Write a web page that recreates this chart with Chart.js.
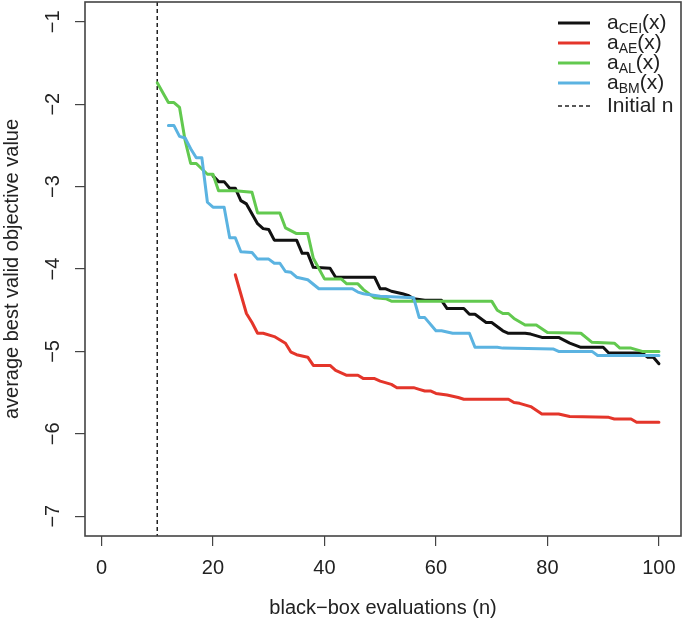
<!DOCTYPE html>
<html>
<head>
<meta charset="utf-8">
<script src="https://cdn.jsdelivr.net/npm/chart.js@4.4.1/dist/chart.umd.min.js"></script>
<style>
  body { margin: 0; background: #fff; }
  canvas { display: block; }
</style>
</head>
<body>
<canvas id="chart" width="685" height="622"></canvas>
<script>
// tick positions
var xTicks = [0, 20, 40, 60, 80, 100];
var yTicks = [-7, -6, -5, -4, -3, -2, -1];
var initialN = 10;

// a_CEI(x)
var ceiN = [20,21,22,23,24,25,26,28,29,30,31,35,36,37,38,41,42,49,50,51,52,54,55,56,58,61,62,65,66,67,69,70,72,73,76,77,79,82,84,86,90,91,97,98,99,100];
var ceiVal = [-2.87,-2.94,-2.94,-3.02,-3.02,-3.17,-3.21,-3.45,-3.51,-3.52,-3.65,-3.65,-3.81,-3.81,-3.98,-3.99,-4.10,-4.10,-4.24,-4.24,-4.27,-4.30,-4.32,-4.36,-4.38,-4.38,-4.48,-4.48,-4.55,-4.55,-4.65,-4.65,-4.75,-4.78,-4.78,-4.79,-4.83,-4.83,-4.90,-4.95,-4.95,-5.02,-5.02,-5.07,-5.07,-5.15];

// a_AE(x)
var aeN = [24,26,27,28,29,31,33,34,35,37,38,41,42,44,46,47,49,50,52,53,56,57,58,59,60,62,64,65,73,74,75,77,79,82,84,91,92,95,96,100];
var aeVal = [-4.07,-4.54,-4.65,-4.78,-4.78,-4.82,-4.90,-5.01,-5.04,-5.07,-5.17,-5.17,-5.23,-5.29,-5.29,-5.33,-5.33,-5.36,-5.40,-5.44,-5.44,-5.46,-5.48,-5.48,-5.51,-5.53,-5.56,-5.58,-5.58,-5.62,-5.63,-5.67,-5.76,-5.76,-5.79,-5.80,-5.82,-5.82,-5.86,-5.86];

// a_AL(x)
var alN = [10,12,13,14,15,16,17,19,20,21,24,27,28,32,33,35,37,38,40,43,44,46,47,49,51,52,70,71,72,73,74,76,78,80,86,88,92,93,95,97,100];
var alVal = [-1.74,-1.98,-1.98,-2.04,-2.44,-2.72,-2.72,-2.85,-2.85,-3.05,-3.05,-3.07,-3.32,-3.32,-3.50,-3.57,-3.57,-3.87,-4.12,-4.12,-4.18,-4.18,-4.25,-4.35,-4.36,-4.39,-4.39,-4.50,-4.54,-4.54,-4.60,-4.68,-4.68,-4.77,-4.78,-4.89,-4.90,-4.96,-4.96,-5.00,-5.00];

// a_BM(x)
var bmN = [12,13,14,15,16,17,18,19,20,22,23,24,25,27,28,30,31,32,33,34,35,37,39,45,46,47,50,56,57,58,60,61,63,66,67,71,72,81,82,88,89,100];
var bmVal = [-2.26,-2.26,-2.39,-2.41,-2.54,-2.65,-2.65,-3.19,-3.25,-3.25,-3.62,-3.62,-3.79,-3.80,-3.88,-3.88,-3.93,-3.93,-4.03,-4.04,-4.10,-4.13,-4.24,-4.24,-4.28,-4.30,-4.33,-4.35,-4.59,-4.59,-4.75,-4.75,-4.78,-4.78,-4.95,-4.95,-4.96,-4.97,-5.00,-5.00,-5.05,-5.05];

var seriesSubs = ['CEI', 'AE', 'AL', 'BM'];
var seriesColors = ['#111111', '#e4352a', '#62c94f', '#5bb3e1'];

// wanted plot box (R par defaults)
var box = { top: 2, bottom: 536, left: 85, right: 681 };

function pts(xs, ys) {
    var out = [];
    for (var i = 0; i < xs.length; i++) out.push({x: xs[i], y: ys[i]});
    return out;
}
function fmt(v) {
    return String(v).replace('-', '\u2212');
}

Chart.defaults.font.family = '"Liberation Sans", Arial, Helvetica, sans-serif';
Chart.defaults.color = '#222';

var boxPlugin = {
    id: 'boxPlugin',
    beforeDatasetsDraw: function(chart) {
        var ctx = chart.ctx, a = chart.chartArea;
        var x = chart.scales.x.getPixelForValue(initialN);
        ctx.save();
        ctx.strokeStyle = '#222';
        ctx.lineWidth = 1.5;
        ctx.setLineDash([4, 3]);
        ctx.beginPath();
        ctx.moveTo(x, a.top);
        ctx.lineTo(x, a.bottom);
        ctx.stroke();
        ctx.restore();
    },
    afterDraw: function(chart) {
        var ctx = chart.ctx, a = chart.chartArea;
        ctx.save();
        ctx.strokeStyle = '#444';
        ctx.lineWidth = 1.6;
        ctx.strokeRect(a.left, a.top, a.right - a.left, a.bottom - a.top);

        // legend
        var rows = [23, 43, 63, 83, 106];
        var lx0 = 558, lx1 = 590, tx = 607;
        var big = '21px "Liberation Sans", Arial, sans-serif';
        var small = '14px "Liberation Sans", Arial, sans-serif';
        ctx.textBaseline = 'middle';
        ctx.textAlign = 'left';
        ctx.fillStyle = '#222';
        for (var i = 0; i < 4; i++) {
            var y = rows[i];
            ctx.strokeStyle = seriesColors[i];
            ctx.lineWidth = 3;
            ctx.beginPath();
            ctx.moveTo(lx0, y);
            ctx.lineTo(lx1, y);
            ctx.stroke();
            ctx.font = big;
            ctx.fillText('a', tx, y);
            var w = ctx.measureText('a').width;
            ctx.font = small;
            ctx.fillText(seriesSubs[i], tx + w, y + 6);
            w += ctx.measureText(seriesSubs[i]).width;
            ctx.font = big;
            ctx.fillText('(x)', tx + w, y);
        }
        ctx.strokeStyle = '#222';
        ctx.lineWidth = 1.5;
        ctx.setLineDash([4, 3]);
        ctx.beginPath();
        ctx.moveTo(lx0, rows[4]);
        ctx.lineTo(lx1, rows[4]);
        ctx.stroke();
        ctx.setLineDash([]);
        ctx.font = big;
        ctx.fillText('Initial n', tx, rows[4]);
        ctx.restore();
    }
};

function lineSet(label, data, color, order) {
    return {
        label: label,
        data: data,
        borderColor: color,
        backgroundColor: color,
        borderWidth: 3,
        pointRadius: 0,
        tension: 0,
        fill: false,
        borderJoinStyle: 'round',
        borderCapStyle: 'round',
        order: order
    };
}

var chart = new Chart(document.getElementById('chart'), {
    type: 'line',
    data: {
        datasets: [
            lineSet('a_CEI(x)', pts(ceiN, ceiVal), seriesColors[0], 3),
            lineSet('a_AE(x)', pts(aeN, aeVal), seriesColors[1], 2),
            lineSet('a_AL(x)', pts(alN, alVal), seriesColors[2], 1),
            lineSet('a_BM(x)', pts(bmN, bmVal), seriesColors[3], 0)
        ]
    },
    options: {
        responsive: false,
        animation: false,
        layout: { padding: { top: 2, right: 4, left: 0, bottom: 0 } },
        plugins: { legend: { display: false }, tooltip: { enabled: false } },
        scales: {
            x: {
                type: 'linear',
                min: -2.96,
                max: 103.96,
                afterBuildTicks: function(s) { s.ticks = xTicks.map(function(v) { return {value: v}; }); },
                afterFit: function(s) { s.height = 86; s.paddingLeft = 0; s.paddingRight = 0; },
                border: { display: false },
                grid: { drawOnChartArea: false, drawTicks: true, tickLength: 10, color: '#444', lineWidth: 1.2 },
                ticks: { font: { size: 20 }, color: '#222', padding: 10, maxRotation: 0, callback: fmt },
                title: { display: true, text: 'black\u2212box evaluations (n)', font: { size: 20 }, color: '#222', padding: { top: 0, bottom: 2 } }
            },
            y: {
                type: 'linear',
                min: -7.24,
                max: -0.76,
                afterBuildTicks: function(s) { s.ticks = yTicks.map(function(v) { return {value: v}; }); },
                afterFit: function(s) { s.width = 85; s.paddingTop = 0; s.paddingBottom = 0; },
                border: { display: false },
                grid: { drawOnChartArea: false, drawTicks: true, tickLength: 10, color: '#444', lineWidth: 1.2 },
                ticks: { font: { size: 20 }, color: '#222', padding: 10, minRotation: 90, maxRotation: 90, crossAlign: 'center', callback: fmt },
                title: { display: true, text: 'average best valid objective value', font: { size: 20 }, color: '#222', padding: { top: 0, bottom: 0 } }
            }
        }
    },
    plugins: [boxPlugin]
});

// nudge layout padding if the plot box is not where the reference has it
for (var k = 0; k < 3; k++) {
    var a = chart.chartArea, p = chart.options.layout.padding;
    var dt = box.top - a.top, db = a.bottom - box.bottom, dl = box.left - a.left, dr = a.right - box.right;
    if (Math.abs(dt) + Math.abs(db) + Math.abs(dl) + Math.abs(dr) < 0.5) break;
    p.top += dt; p.bottom += db; p.left += dl; p.right += dr;
    chart.update();
}
</script>
</body>
</html>
